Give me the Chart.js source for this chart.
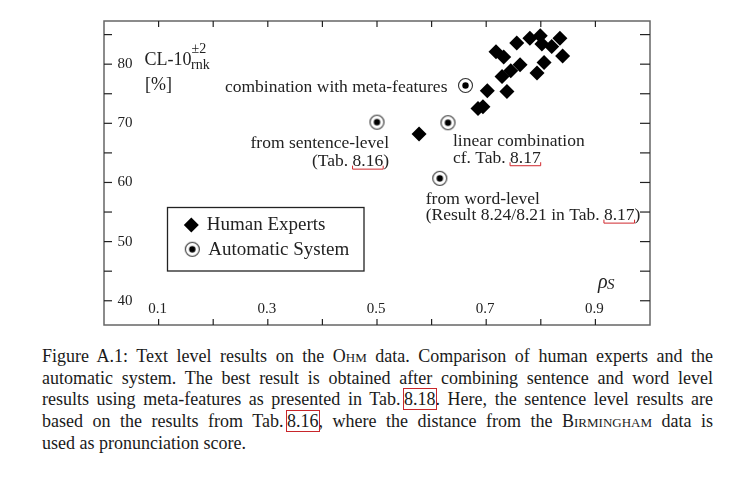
<!DOCTYPE html>
<html>
<head>
<meta charset="utf-8">
<script src="https://cdn.jsdelivr.net/npm/chart.js@4.4.1/dist/chart.umd.min.js"></script>
<style>
  html, body { margin: 0; padding: 0; background: #fff; }
  #wrap { position: relative; width: 752px; height: 478px; overflow: hidden; }
  #chartBox { position: absolute; left: 0; top: 0; width: 752px; height: 340px; }
  #caption { position: absolute; left: 42px; top: 346px; width: 671px;
    font-family: "Liberation Serif", serif; font-size: 18px; line-height: 21.7px; color: #1a1a1a; }
  #caption div { text-align: justify; text-align-last: justify; white-space: nowrap; }
  #caption div.last { text-align-last: left; }
  .sc { font-variant: small-caps; }
  .ref { outline: 1px solid #c8262b; outline-offset: 0; }
</style>
</head>
<body>
<div id="wrap">
  <div id="chartBox"><canvas id="plot"></canvas></div>
  <div id="caption">
    <div>Figure A.1: Text level results on the O<span class="sc">hm</span> data. Comparison of human experts and the</div>
    <div>automatic system. The best result is obtained after combining sentence and word level</div>
    <div>results using meta-features as presented in Tab.&#8201;<span class="ref">8.18</span>. Here, the sentence level results are</div>
    <div>based on the results from Tab.&#8201;<span class="ref">8.16</span>, where the distance from the B<span class="sc">irmingham</span> data is</div>
    <div class="last">used as pronunciation score.</div>
  </div>
</div>
<script>
// human experts (rho_S, CL-10 rnk %)
const humanX = [0.577, 0.685, 0.694, 0.702, 0.738, 0.718, 0.732, 0.729, 0.745, 0.762,
                0.756, 0.780, 0.799, 0.802, 0.820, 0.835, 0.840, 0.806, 0.793];
const humanY = [68.2, 72.5, 72.8, 75.5, 75.4, 82.1, 81.2, 77.9, 78.9, 79.9,
                83.6, 84.4, 84.8, 83.4, 83.0, 84.4, 81.4, 80.3, 78.5];

// automatic system
const autoX = [0.500, 0.615, 0.630, 0.662];
const autoY = [70.2, 60.7, 70.1, 76.4];
const autoNotes = [
  ['from sentence-level', '(Tab. 8.16)'],
  ['from word-level', '(Result 8.24/8.21 in Tab. 8.17)'],
  ['linear combination', 'cf. Tab. 8.17'],
  ['combination with meta-features']
];

const xTicks = [0.1, 0.2, 0.3, 0.4, 0.5, 0.6, 0.7, 0.8, 0.9];
const xTickLabels = ['0.1', '0.3', '0.5', '0.7', '0.9'];
const yTicks = [40, 45, 50, 55, 60, 65, 70, 75, 80, 85];
const yTickLabels = ['40', '50', '60', '70', '80'];

const SERIF = '"Liberation Serif", "DejaVu Serif", serif';

// ring with a dot for the automatic system
function ringMarker() {
  const c = document.createElement('canvas');
  c.width = 17; c.height = 17;
  const g = c.getContext('2d');
  g.beginPath(); g.arc(8.5, 8.5, 7, 0, Math.PI * 2);
  g.fillStyle = '#fff'; g.fill();
  g.lineWidth = 1.1; g.strokeStyle = '#333'; g.stroke();
  g.beginPath(); g.arc(8.5, 8.5, 3.2, 0, Math.PI * 2);
  g.fillStyle = '#000'; g.fill();
  return c;
}
const ring = ringMarker();

function line(ctx, x1, y1, x2, y2) {
  ctx.beginPath(); ctx.moveTo(x1, y1); ctx.lineTo(x2, y2); ctx.stroke();
}

// text placement relative to each automatic point
const noteStyle = [
  { dx: 12, dy: [21.5, 39.5], align: 'right', link: '8.16' },
  { dx: -14, dy: [21.3, 37.3], align: 'left', link: '8.17' },
  { dx: 5, dy: [18.5, 35.5], align: 'left', link: '8.17' },
  { dx: -18, dy: [1.5], align: 'right', link: null }
];

const frame = {
  id: 'frame',
  beforeDatasetsDraw(chart) {
    const { ctx, chartArea: a, scales: { x, y } } = chart;
    ctx.save();
    ctx.strokeStyle = '#666'; ctx.lineWidth = 1.5;
    ctx.strokeRect(a.left, a.top, a.right - a.left, a.bottom - a.top);
    ctx.strokeStyle = '#222'; ctx.lineWidth = 1.2;
    xTicks.forEach(v => {
      const px = x.getPixelForValue(v);
      line(ctx, px, a.bottom, px, a.bottom - 6);
      line(ctx, px, a.top, px, a.top + 6);
    });
    yTicks.forEach(v => {
      const py = y.getPixelForValue(v);
      line(ctx, a.left, py, a.left + 8, py);
      line(ctx, a.right, py, a.right - 10, py);
    });
    ctx.fillStyle = '#222';
    ctx.font = '15px ' + SERIF;
    ctx.textBaseline = 'middle';
    ctx.textAlign = 'center';
    xTickLabels.forEach(t => ctx.fillText(t, x.getPixelForValue(parseFloat(t)) - 1, a.bottom - 16));
    ctx.textAlign = 'left';
    yTickLabels.forEach(t => ctx.fillText(t, a.left + 13.5, y.getPixelForValue(parseFloat(t))));

    // axis titles
    ctx.font = '18px ' + SERIF;
    ctx.fillText('CL-10', 144.5, 60);
    ctx.fillText('[%]', 145, 85);
    ctx.font = '14px ' + SERIF;
    ctx.fillText('\u00b12', 191.5, 49.5);
    ctx.fillText('rnk', 191, 65.5);
    ctx.font = 'italic 20px ' + SERIF;
    ctx.fillText('\u03c1', 598, 283);
    ctx.font = 'italic 15px ' + SERIF;
    ctx.fillText('S', 607, 285);
    ctx.restore();
  },
  afterDatasetsDraw(chart) {
    const { ctx, scales: { x, y } } = chart;
    ctx.save();
    ctx.fillStyle = '#222';
    ctx.font = '17.5px ' + SERIF;
    ctx.textBaseline = 'middle';
    autoNotes.forEach((lines, i) => {
      const st = noteStyle[i];
      const px = x.getPixelForValue(autoX[i]) + st.dx;
      const py = y.getPixelForValue(autoY[i]);
      ctx.textAlign = st.align;
      lines.forEach((t, k) => {
        const ty = py + st.dy[k];
        ctx.fillText(t, px, ty);
        if (st.link && k === lines.length - 1) {
          const w = ctx.measureText(t).width;
          const left = st.align === 'right' ? px - w : px;
          const idx = t.lastIndexOf(st.link);
          const x0 = left + ctx.measureText(t.slice(0, idx)).width;
          const x1 = x0 + ctx.measureText(st.link).width;
          ctx.save();
          ctx.strokeStyle = '#d0282e'; ctx.lineWidth = 1;
          ctx.beginPath();
          ctx.moveTo(x0, ty + 4); ctx.lineTo(x0, ty + 7.5);
          ctx.lineTo(x1, ty + 7.5); ctx.lineTo(x1, ty + 4);
          ctx.stroke();
          ctx.restore();
        }
      });
    });

    // legend box
    ctx.strokeStyle = '#222'; ctx.lineWidth = 1.3;
    ctx.strokeRect(167.5, 207.5, 196.5, 63.5);
    const ds = chart.data.datasets;
    ctx.fillStyle = '#000';
    ctx.beginPath();
    ctx.moveTo(191.3 - 7.5, 225); ctx.lineTo(191.3, 225 - 7.5);
    ctx.lineTo(191.3 + 7.5, 225); ctx.lineTo(191.3, 225 + 7.5); ctx.closePath(); ctx.fill();
    ctx.drawImage(ring, 192.3 - 8.5, 249.3 - 8.5);
    ctx.fillStyle = '#222';
    ctx.font = '19px ' + SERIF;
    ctx.textAlign = 'left';
    ctx.fillText(ds[0].label, 206.7, 225.5);
    ctx.fillText(ds[1].label, 208.3, 249.8);
    ctx.restore();
  }
};

new Chart(document.getElementById('plot'), {
  type: 'scatter',
  data: {
    datasets: [
      {
        label: 'Human Experts',
        data: humanX.map((v, i) => ({ x: v, y: humanY[i] })),
        pointStyle: 'rectRot',
        pointRadius: 7.5,
        pointBackgroundColor: '#000',
        pointBorderColor: '#000',
        pointBorderWidth: 0
      },
      {
        label: 'Automatic System',
        data: autoX.map((v, i) => ({ x: v, y: autoY[i] })),
        pointStyle: ring,
        pointRadius: 8
      }
    ]
  },
  options: {
    responsive: true,
    maintainAspectRatio: false,
    animation: false,
    events: [],
    layout: { padding: { left: 104, right: 102, top: 21, bottom: 15 } },
    plugins: { legend: { display: false }, tooltip: { enabled: false } },
    scales: {
      x: { type: 'linear', min: 0, max: 1.0, display: false },
      y: { type: 'linear', min: 35.9, max: 87.3, display: false }
    }
  },
  plugins: [frame]
});
</script>
</body>
</html>
